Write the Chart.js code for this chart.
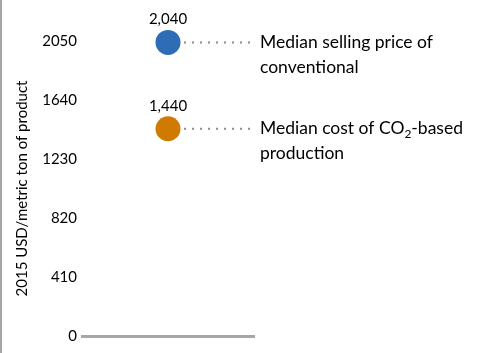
<!DOCTYPE html>
<html>
<head>
<meta charset="utf-8">
<script src="https://cdn.jsdelivr.net/npm/chart.js@4"></script>
<style>
  html, body { margin: 0; padding: 0; background: #fff; }
  #wrap { width: 484px; height: 353px; border-left: 2px solid #a6a6a6; position: relative; }
  canvas { display: block; }
</style>
</head>
<body>
<div id="wrap"><canvas id="costChart" width="484" height="353"></canvas></div>
<script>
// values
const categories = ['Median selling price of conventional', 'Median cost of CO₂-based production'];
const labelLines = [['Median selling price of', 'conventional'], ['Median cost of CO₂-based', 'production']];
const values = [2040, 1440];
const colors = ['#2e6db5', '#cf7b02'];
const yTicks = [0, 410, 820, 1230, 1640, 2050];
const axisTitle = '2015 USD/metric ton of product';

const FONT = 'Lato, "Open Sans", sans-serif';

// one point per series, with a dotted leader running to the right edge
const datasets = values.map((v, i) => ({
    label: categories[i],
    data: [{x: 1, y: v}, {x: 1.97, y: v}],
    borderColor: '#8c8c8c',
    borderWidth: 2,
    borderDash: [2, 6],
    pointRadius: [12.5, 0],
    pointHoverRadius: [12.5, 0],
    pointBackgroundColor: colors[i],
    pointBorderWidth: 0,
    clip: false
}));

// value labels above the points and the text on the right
const labelPlugin = {
    id: 'labels',
    afterDatasetsDraw(chart) {
        const ctx = chart.ctx;
        const area = chart.chartArea;
        ctx.save();
        chart.data.datasets.forEach((ds, i) => {
            const pt = chart.getDatasetMeta(i).data[0];
            ctx.fillStyle = '#000';
            ctx.font = '15px ' + FONT;
            ctx.textAlign = 'center';
            ctx.textBaseline = 'middle';
            ctx.fillText(values[i].toLocaleString('en-US'), pt.x, pt.y - 23);

            ctx.textAlign = 'left';
            labelLines[i].forEach((line, j) => {
                const y = pt.y + j * 25;
                let x = area.right + 6;
                const parts = line.split('₂');
                parts.forEach((part, k) => {
                    ctx.font = '17.5px ' + FONT;
                    ctx.fillText(part, x, y);
                    x += ctx.measureText(part).width;
                    if (k < parts.length - 1) {
                        ctx.font = '12px ' + FONT;
                        ctx.fillText('2', x, y + 5);
                        x += ctx.measureText('2').width;
                    }
                });
            });
        });
        ctx.restore();
    }
};

const ctx = document.getElementById('costChart').getContext('2d');
new Chart(ctx, {
    type: 'line',
    data: { datasets: datasets },
    options: {
        responsive: false,
        animation: false,
        events: [],
        layout: { padding: { top: 41, right: 232, bottom: 17, left: 0 } },
        scales: {
            x: {
                type: 'linear',
                min: 0,
                max: 2,
                grid: { display: false, drawTicks: false },
                ticks: { display: false },
                border: { display: true, color: '#a6a6a6', width: 3 },
                afterFit: s => { s.height = 0; }
            },
            y: {
                min: 0,
                max: 2050,
                afterBuildTicks: s => { s.ticks = yTicks.map(v => ({value: v})); },
                grid: { display: false, drawTicks: false },
                border: { display: false },
                ticks: {
                    color: '#000',
                    padding: 5,
                    font: { family: FONT, size: 15 },
                    callback: v => String(v)
                },
                title: {
                    display: true,
                    text: axisTitle,
                    color: '#000',
                    padding: { top: 11, bottom: 0 },
                    font: { family: FONT, size: 15 }
                },
                afterFit: s => { s.width = 80; }
            }
        },
        plugins: {
            legend: { display: false },
            tooltip: { enabled: false }
        }
    },
    plugins: [labelPlugin]
});
</script>
</body>
</html>
